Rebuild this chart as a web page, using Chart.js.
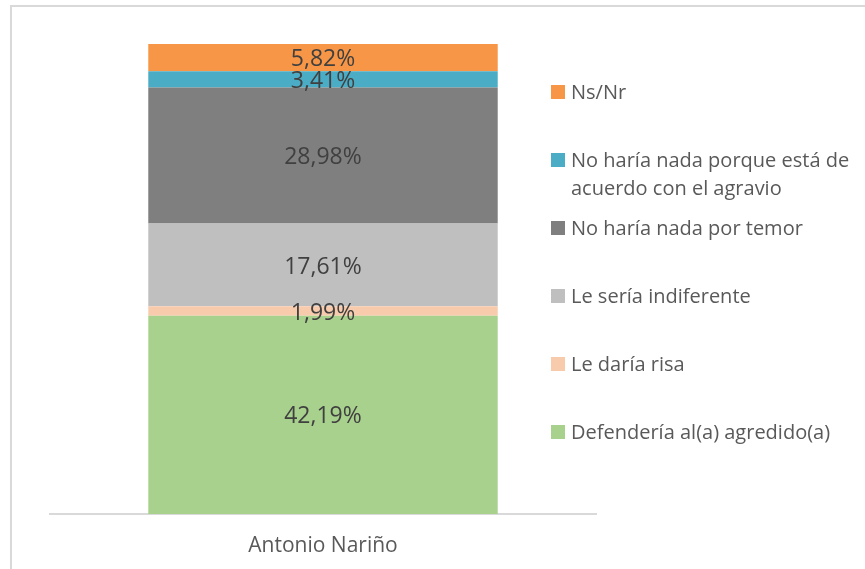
<!DOCTYPE html>
<html>
<head>
<meta charset="utf-8">
<script src="https://cdn.jsdelivr.net/npm/chart.js@4/dist/chart.umd.min.js"></script>
<style>
  html, body { margin: 0; padding: 0; width: 865px; height: 569px; overflow: hidden; background: #fff; }
  #frame { position: absolute; left: 10px; top: 5px; width: 900px; height: 600px; border: 2px solid #D9D9D9; box-sizing: border-box; }
  #wrap { position: absolute; left: 0; top: 0; width: 865px; height: 569px; }
  #legend { position: absolute; left: 551px; top: 0; font-family: "Open Sans", sans-serif; font-size: 20px; color: #595959; }
  .item { position: absolute; left: 0; white-space: nowrap; line-height: 28px; }
  .sw { position: absolute; left: 0; top: 7px; width: 14px; height: 14px; }
  .txt { position: absolute; left: 20px; top: 0; }
</style>
</head>
<body>
<div id="frame"></div>
<div id="wrap"><canvas id="c" width="865" height="569"></canvas></div>
<div id="legend"></div>
<script>
const categories = ["Antonio Nariño"];
const seriesNames = [
  "Defendería al(a) agredido(a)",
  "Le daría risa",
  "Le sería indiferente",
  "No haría nada por temor",
  "No haría nada porque está de acuerdo con el agravio",
  "Ns/Nr"
];
const seriesValues = [
  [42.19],
  [1.99],
  [17.61],
  [28.98],
  [3.41],
  [5.82]
];
const seriesColors = ["#A9D18E", "#F8CBAD", "#BFBFBF", "#7F7F7F", "#4BACC6", "#F79646"];
// legend lines (top to bottom)
const legendLines = {
  "No haría nada porque está de acuerdo con el agravio": ["No haría nada porque está de", "acuerdo con el agravio"]
};

const labelPlugin = {
  id: 'segLabels',
  afterDatasetsDraw(chart) {
    const ctx = chart.ctx;
    ctx.save();
    ctx.font = '23px "Open Sans", sans-serif';
    ctx.fillStyle = '#404040';
    ctx.textAlign = 'center';
    ctx.textBaseline = 'middle';
    chart.data.datasets.forEach((ds, i) => {
      const meta = chart.getDatasetMeta(i);
      meta.data.forEach((el, j) => {
        const v = ds.data[j];
        const txt = v.toFixed(2).replace('.', ',') + '%';
        const y = (el.y + el.base) / 2;
        ctx.fillText(txt, el.x, y + 2);
      });
    });
    ctx.restore();
  }
};

new Chart(document.getElementById('c'), {
  type: 'bar',
  data: {
    labels: categories,
    datasets: seriesNames.map((n, i) => ({
      label: n,
      data: seriesValues[i],
      backgroundColor: seriesColors[i],
      borderWidth: 0,
      barPercentage: 0.8,
      categoryPercentage: 0.8
    }))
  },
  options: {
    responsive: false,
    animation: false,
    devicePixelRatio: 1,
    layout: { padding: { left: 50, right: 269, top: 44, bottom: 0 } },
    plugins: { legend: { display: false }, tooltip: { enabled: false } },
    scales: {
      x: {
        stacked: true,
        grid: { display: false, drawTicks: false },
        border: { display: true, color: '#D9D9D9', width: 2 },
        ticks: { color: '#595959', font: { family: '"Open Sans", sans-serif', size: 21 }, padding: 19 },
        afterFit(s) { s.height = 55; }
      },
      y: {
        stacked: true,
        display: false,
        min: 0,
        max: 100
      }
    }
  },
  plugins: [labelPlugin]
});

// HTML legend, top item first
const legend = document.getElementById('legend');
const order = seriesNames.map((n, i) => i).reverse();
order.forEach((idx, k) => {
  const name = seriesNames[idx];
  const lines = legendLines[name] || [name];
  const item = document.createElement('div');
  item.className = 'item';
  item.style.top = (92 - 14 + 68 * k) + 'px';
  const sw = document.createElement('div');
  sw.className = 'sw';
  sw.style.background = seriesColors[idx];
  const t = document.createElement('div');
  t.className = 'txt';
  t.innerHTML = lines.map(l => l.replace(/&/g, '&amp;')).join('<br>');
  item.appendChild(sw);
  item.appendChild(t);
  legend.appendChild(item);
});
</script>
</body>
</html>
